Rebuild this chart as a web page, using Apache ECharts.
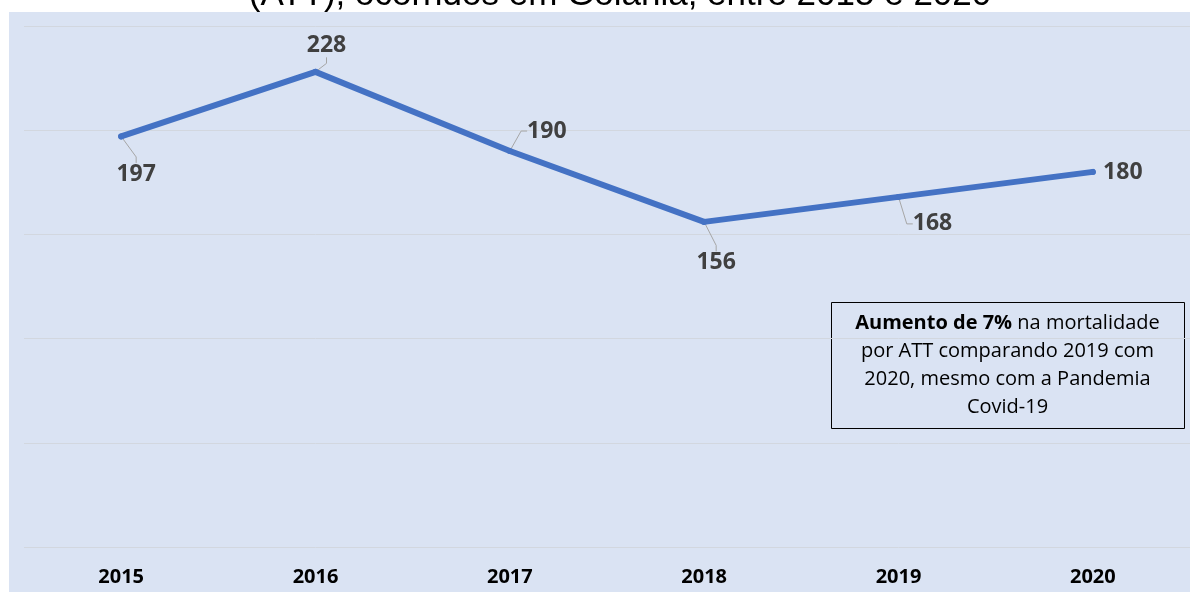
<!DOCTYPE html>
<html>
<head>
<meta charset="utf-8">
<script src="https://cdn.jsdelivr.net/npm/echarts@6/dist/echarts.min.js"></script>
<style>
  html, body { margin: 0; padding: 0; background: #fff; }
  #chart { width: 1190px; height: 592px; }
</style>
</head>
<body>
<div id="chart"></div>
<script>
const years = ['2015', '2016', '2017', '2018', '2019', '2020']
const deaths = [197, 228, 190, 156, 168, 180]
// label offsets from each point (dx, dy), as in the original slide
const labelShift = [[15, 38], [11, -26], [37, -20], [12, 41], [34, 27], [30, 1]]
const showLeader = [true, true, true, true, true, false]
const titleText = '(ATT), ocorridos em Goiânia, entre 2015 e 2020'
const noteLines = [
  '{b|Aumento de 7%} na mortalidade',
  'por ATT comparando 2019 com',
  '2020, mesmo com a Pandemia',
  'Covid-19'
]

const font = '"Open Sans", "Noto Sans", sans-serif'
const chart = echarts.init(document.getElementById('chart'))

const seriesData = deaths.map((v, i) => ({
  value: v,
  labelLine: { show: showLeader[i] }
}))

chart.setOption({
  animation: false,
  backgroundColor: '#ffffff',
  graphic: [
    {
      type: 'rect',
      left: 9,
      top: 12,
      z: -10,
      silent: true,
      shape: { width: 1181, height: 580 },
      style: { fill: '#dae3f3' }
    },
    {
      type: 'text',
      x: 620,
      y: 13,
      z: 10,
      style: {
        text: titleText,
        font: '35px "Liberation Sans", Arial, sans-serif',
        fill: '#000',
        align: 'center',
        verticalAlign: 'bottom'
      }
    },
    {
      type: 'group',
      left: 831,
      top: 302,
      z: 10,
      children: [
        {
          type: 'rect',
          shape: { x: 0, y: 0, width: 353, height: 126 },
          style: { fill: 'transparent', stroke: '#000', lineWidth: 1 }
        },
        {
          type: 'text',
          x: 176,
          y: 63,
          style: {
            text: noteLines.join('\n'),
            align: 'center',
            verticalAlign: 'middle',
            fontFamily: font,
            fontSize: 20,
            lineHeight: 28,
            fill: '#000',
            rich: {
              b: { fontWeight: 'bold', fontFamily: font, fontSize: 20, lineHeight: 28, fill: '#000' }
            }
          }
        }
      ]
    }
  ],
  grid: {
    left: 24,
    right: 0,
    top: 26,
    bottom: 45
  },
  xAxis: {
    type: 'category',
    data: years,
    boundaryGap: true,
    axisLine: { show: false },
    axisTick: { show: false },
    axisLabel: {
      color: '#000',
      fontFamily: font,
      fontWeight: 'bold',
      fontSize: 20,
      margin: 20
    }
  },
  yAxis: {
    type: 'value',
    min: 0,
    max: 250,
    interval: 50,
    axisLabel: { show: false },
    axisLine: { show: false },
    axisTick: { show: false },
    splitLine: {
      lineStyle: { color: '#d2d7df', width: 1 }
    }
  },
  series: [
    {
      type: 'line',
      data: seriesData,
      symbol: 'circle',
      symbolSize: 6,
      showSymbol: true,
      itemStyle: { color: '#4472c4' },
      lineStyle: { color: '#4472c4', width: 6, cap: 'round', join: 'round' },
      label: {
        show: true,
        position: 'inside',
        formatter: '{c}',
        color: '#404040',
        fontFamily: font,
        fontWeight: 'bold',
        fontSize: 23
      },
      labelLine: {
        show: true,
        length2: 6,
        lineStyle: { color: '#a6a6a6', width: 1 }
      },
      labelLayout: params => {
        const s = labelShift[params.dataIndex]
        return { dx: s[0], dy: s[1] }
      }
    }
  ]
})
</script>
</body>
</html>
